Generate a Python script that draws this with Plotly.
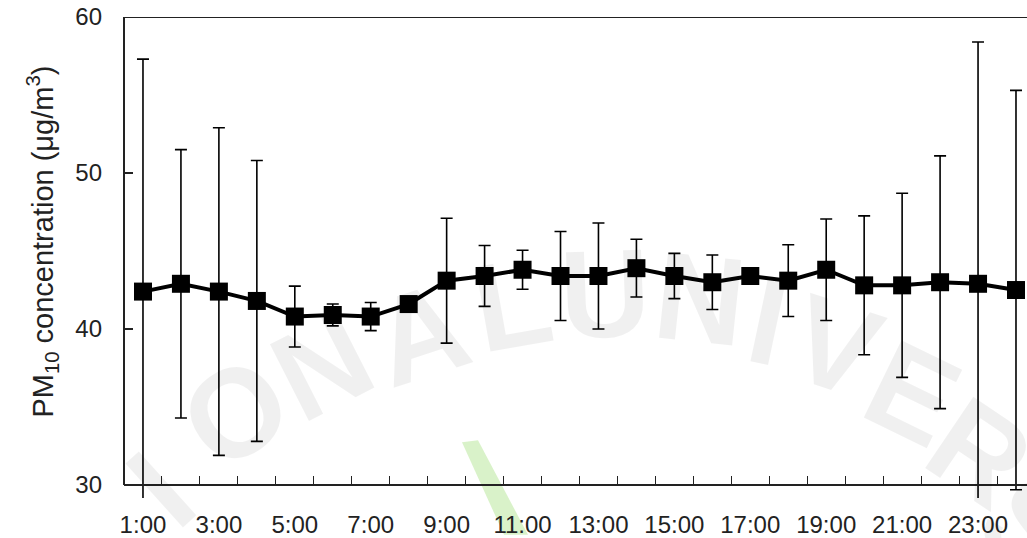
import plotly.graph_objects as go

# Hourly PM10 means with standard deviations
hours = ["1:00", "2:00", "3:00", "4:00", "5:00", "6:00", "7:00", "8:00",
         "9:00", "10:00", "11:00", "12:00", "13:00", "14:00", "15:00", "16:00",
         "17:00", "18:00", "19:00", "20:00", "21:00", "22:00", "23:00", "24:00"]
pm10_mean = [42.4, 42.9, 42.4, 41.8, 40.8, 40.9, 40.8, 41.6,
             43.1, 43.4, 43.8, 43.4, 43.4, 43.9, 43.4, 43.0,
             43.4, 43.1, 43.8, 42.8, 42.8, 43.0, 42.9, 42.5]
pm10_sd = [14.9, 8.6, 10.5, 9.0, 1.95, 0.7, 0.9, 0.35,
           4.0, 1.95, 1.25, 2.85, 3.4, 1.85, 1.45, 1.75,
           0.3, 2.3, 3.25, 4.45, 5.9, 8.1, 15.5, 12.8]
y_ticks = [30, 40, 50, 60]

hour_num = [int(h.split(":")[0]) for h in hours]
label_vals = hour_num[::2]
label_text = hours[::2]

W, H = 1027, 538
ML, MR, MT, MB = 124, 0, 17, 37
PW, PH = W - ML - MR, H - MT - MB
Y_MIN, Y_MAX = 29.17, 60
X_MIN, X_MAX = 0.5, 24.29
axis_pos = (y_ticks[0] - Y_MIN) / (Y_MAX - Y_MIN)

tick_font = dict(family="Liberation Sans Narrow, Arial Narrow, Liberation Sans", size=24, color="#222")

fig = go.Figure()
fig.add_trace(go.Scatter(
    x=hour_num, y=pm10_mean,
    mode="lines+markers",
    line=dict(color="black", width=4),
    marker=dict(symbol="square", size=18, color="black"),
    error_y=dict(type="data", array=pm10_sd, visible=True,
                 color="black", thickness=1.6, width=6),
    showlegend=False,
))


def px(x):
    return (x - ML) / PW


def py(y):
    return (H - MB - y) / PH


# faint background lettering along an arc: (letter, centre x, centre y, rotation)
wm_letters = [("I", 160, 492, -42), ("O", 235, 415, -35), ("N", 322, 368, -27),
              ("A", 420, 335, -18), ("L", 512, 305, -10), ("U", 605, 295, -2),
              ("N", 700, 300, 6), ("I", 768, 322, 12), ("V", 835, 348, 18),
              ("E", 912, 395, 26), ("R", 980, 455, 34), ("S", 1030, 530, 40)]
annotations = []
for ch, cx, cy, ang in wm_letters:
    annotations.append(dict(
        text="<b>%s</b>" % ch, x=px(cx), y=py(cy), xref="paper", yref="paper",
        showarrow=False, textangle=ang, xanchor="center", yanchor="middle",
        font=dict(family="Liberation Sans", size=125, color="rgba(0,0,0,0.06)"),
    ))

annotations.append(dict(
    text="PM<sub>10</sub> concentration (μg/m<sup>3</sup>)",
    x=px(42), y=py(243), xref="paper", yref="paper",
    showarrow=False, textangle=-90, xanchor="center", yanchor="middle",
    font=dict(family="Liberation Sans, Arial", size=29, color="#222"),
))

shapes = [
    # green leaf stroke
    dict(type="path", xref="paper", yref="paper", layer="below",
         path="M {} {} L {} {} L {} {} L {} {} Z".format(
             px(462), py(445), px(478), py(443), px(528), py(538), px(504), py(538)),
         fillcolor="rgba(140,215,90,0.33)", line=dict(width=0)),
    # frame: left and top edges
    dict(type="line", xref="paper", yref="y", x0=0, x1=0, y0=y_ticks[0], y1=y_ticks[-1],
         line=dict(color="#222", width=2)),
    dict(type="line", xref="paper", yref="y", x0=0, x1=1, y0=y_ticks[-1], y1=y_ticks[-1],
         line=dict(color="#222", width=2)),
]

fig.update_layout(
    width=W, height=H,
    margin=dict(l=ML, r=MR, t=MT, b=MB, pad=0),
    paper_bgcolor="white", plot_bgcolor="rgba(0,0,0,0)",
    annotations=annotations, shapes=shapes,
    xaxis=dict(
        range=[X_MIN, X_MAX], anchor="free", position=axis_pos,
        showline=True, linecolor="#222", linewidth=2,
        showgrid=False, zeroline=False,
        tickmode="array", tickvals=label_vals, ticktext=label_text,
        ticks="", tickfont=tick_font, ticklabelstandoff=18,
        minor=dict(tickmode="array", tickvals=[v + 0.5 for v in hour_num[:-1]],
                   ticks="inside", ticklen=8, tickwidth=1.2, tickcolor="#222",
                   showgrid=False),
    ),
    yaxis=dict(
        range=[Y_MIN, Y_MAX], showline=False, showgrid=False, zeroline=False,
        tickmode="array", tickvals=y_ticks,
        ticks="inside", ticklen=9, tickwidth=1.5, tickcolor="#222",
        tickfont=tick_font, ticklabelstandoff=21,
    ),
)

fig.write_html("out.html")
